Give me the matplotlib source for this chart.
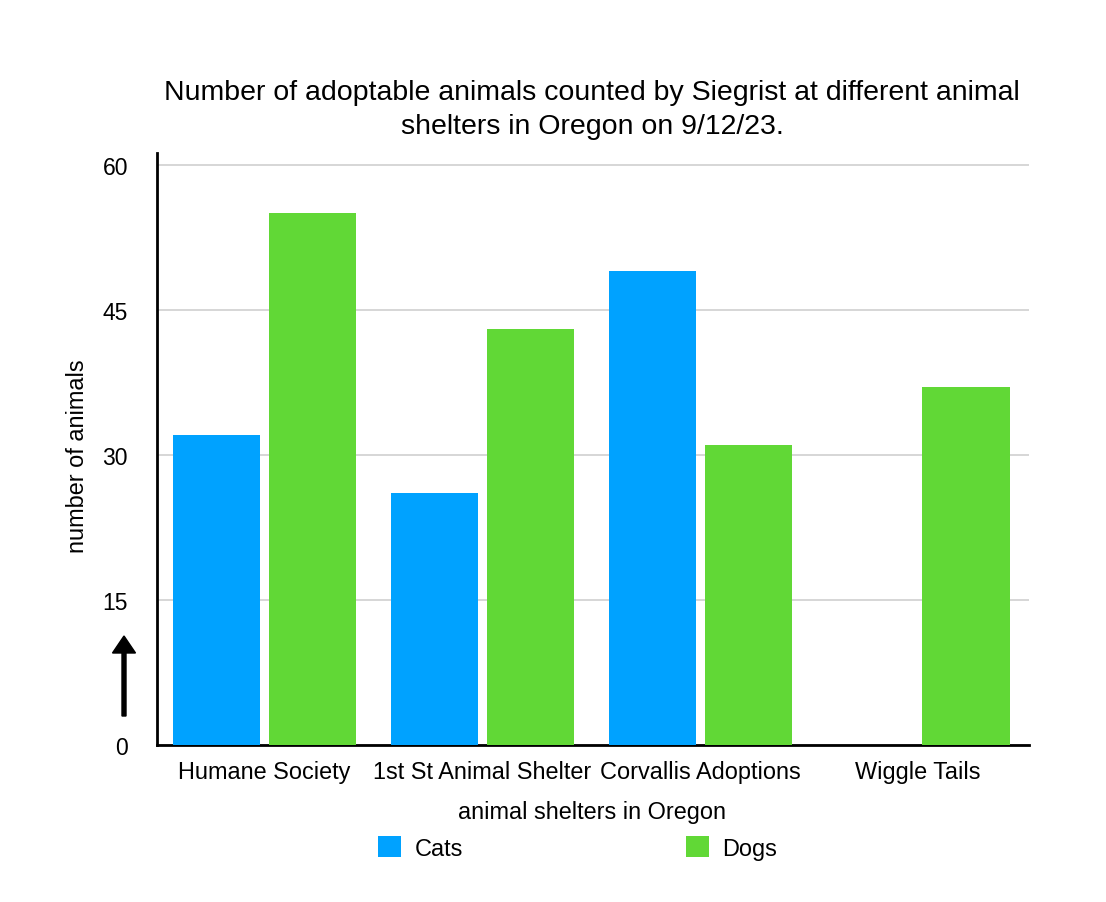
import matplotlib
matplotlib.use("Agg")
import matplotlib.pyplot as plt
from matplotlib.patches import FancyArrow
import numpy as np

plt.rcParams['font.family'] = ['Liberation Sans', 'DejaVu Sans']

shelters = ['Humane Society', '1st St Animal Shelter', 'Corvallis Adoptions', 'Wiggle Tails']
cats = [32, 26, 49, 0]
dogs = [55, 43, 31, 37]
yticks = [0, 15, 30, 45, 60]

cat_color = '#00A2FF'
dog_color = '#61D836'

fig = plt.figure(figsize=(11.06, 9.03), dpi=100)
ax = fig.add_axes([0.142, 0.1739, 0.788, 0.6556])

x = np.arange(len(shelters))
ax.bar(x - 0.22, cats, width=0.4, color=cat_color, label='Cats', zorder=3)
ax.bar(x + 0.22, dogs, width=0.4, color=dog_color, label='Dogs', zorder=3)

ax.set_xlim(-0.493, len(shelters) - 0.493)
ax.set_ylim(0, 61.2)
ax.set_yticks(yticks)
ax.set_xticks(x)
ax.set_xticklabels(shelters)
ax.tick_params(axis='both', length=0, labelsize=16.5)
ax.tick_params(axis='x', labelsize=16.9, pad=10.5)
ax.tick_params(axis='y', pad=21)
ax.yaxis.grid(True, color='#cfcfcf', lw=1.2, zorder=0)
ax.set_axisbelow(True)

for s in ['top', 'right']:
    ax.spines[s].set_visible(False)
for s in ['left', 'bottom']:
    ax.spines[s].set_linewidth(2)
    ax.spines[s].set_color('black')

fig.text(592 / 1106, 1 - 812 / 903, 'animal shelters in Oregon', ha='center', va='center', fontsize=16.9)
fig.text(77 / 1106, 1 - 456 / 903, 'number of animals', ha='center', va='center', rotation=90, fontsize=16.9)

fig.text(592 / 1106, 1 - 110 / 903,
         'Number of adoptable animals counted by Siegrist at different animal\nshelters in Oregon on 9/12/23.',
         ha='center', va='center', fontsize=20.5, linespacing=1.45)

# arrow next to y axis
arrow = FancyArrow(1.24, 1.86, 0, 0.80, width=0.04, head_width=0.23, head_length=0.17,
                   length_includes_head=True, color='black', transform=fig.dpi_scale_trans)
fig.patches.append(arrow)

fig.legend(loc='center', bbox_to_anchor=(577.5 / 1106, 1 - 849 / 903), ncol=2, frameon=False,
           fontsize=16.9, handlelength=1.0, handleheight=1.0, handletextpad=0.57, columnspacing=9.5)

fig.savefig('out.png', dpi=100, facecolor='white')
